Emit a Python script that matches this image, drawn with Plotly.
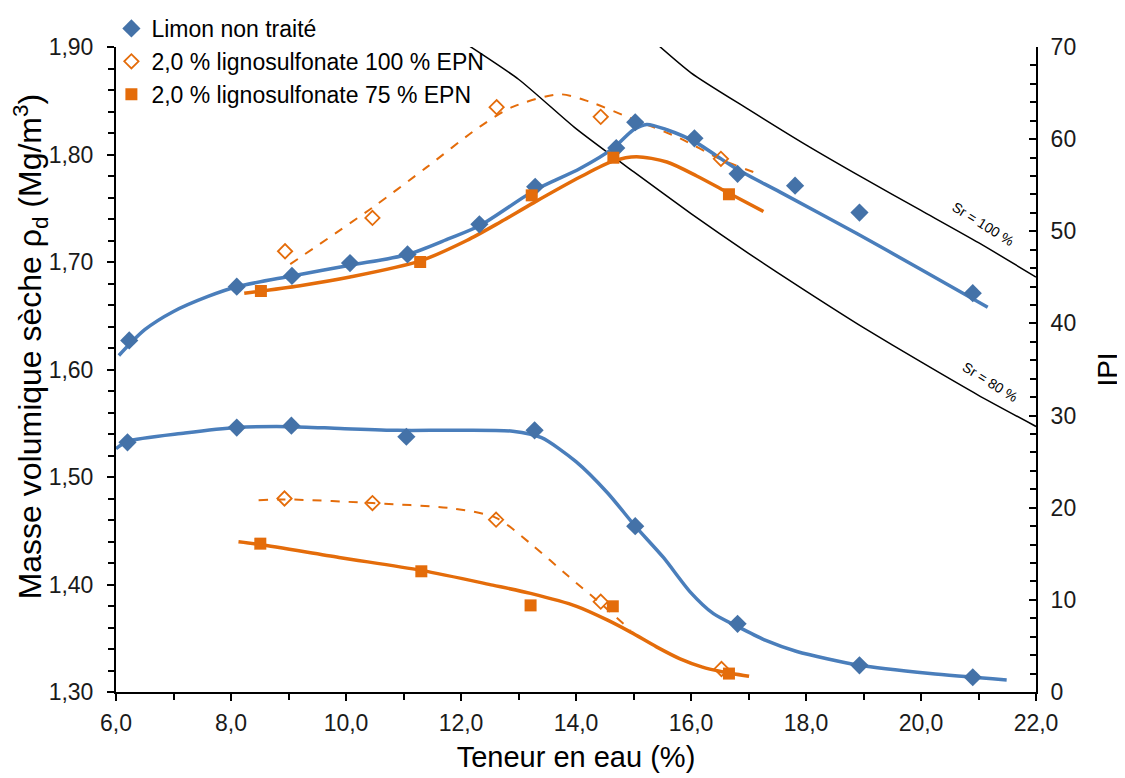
import plotly.graph_objects as go

# ---------------- data ----------------
# Dry density points (left axis)
limon_w = [6.23, 8.10, 9.06, 10.07, 11.07, 12.32, 13.29, 14.70, 15.03, 16.06, 16.81, 17.81, 18.93, 20.90]
limon_rho = [1.627, 1.677, 1.687, 1.699, 1.707, 1.735, 1.770, 1.806, 1.830, 1.815, 1.782, 1.771, 1.746, 1.671]
ligno100_w = [8.94, 10.46, 12.62, 14.43, 16.52]
ligno100_rho = [1.710, 1.741, 1.844, 1.835, 1.796]
ligno75_w = [8.52, 11.29, 13.23, 14.65, 16.66]
ligno75_rho = [1.673, 1.700, 1.762, 1.797, 1.763]

# IPI points (right axis)
limon_ipi_w = [6.20, 8.10, 9.05, 11.05, 13.28, 15.03, 16.81, 18.93, 20.90]
limon_ipi = [27.1, 28.7, 28.9, 27.7, 28.4, 18.0, 7.4, 2.9, 1.6]
ligno100_ipi_w = [8.93, 10.46, 12.61, 14.43, 16.53]
ligno100_ipi = [21.0, 20.5, 18.7, 9.8, 2.5]
ligno75_ipi_w = [8.51, 11.31, 13.21, 14.64, 16.66]
ligno75_ipi = [16.1, 13.1, 9.4, 9.3, 2.0]

# Fitted curves (density)
fit_limon_w = [6.05, 6.5, 7.0, 7.6, 8.1, 9.06, 10.07, 11.07, 11.8, 12.33, 13.29, 14.07, 14.65, 15.0, 15.23, 15.58, 16.06, 16.81, 17.55, 18.9, 20.0, 21.16]
fit_limon_rho = [1.613, 1.637, 1.654, 1.668, 1.677, 1.687, 1.697, 1.707, 1.722, 1.734, 1.767, 1.787, 1.806, 1.823, 1.828, 1.823, 1.812, 1.786, 1.765, 1.726, 1.693, 1.658]
fit_l75_w = [8.23, 9.2, 10.07, 11.29, 12.1, 12.68, 13.26, 14.07, 14.65, 15.05, 15.58, 16.1, 16.66, 17.26]
fit_l75_rho = [1.671, 1.678, 1.686, 1.701, 1.720, 1.737, 1.755, 1.779, 1.794, 1.798, 1.793, 1.780, 1.764, 1.747]
fit_l100_w = [9.03, 10.47, 11.4, 12.33, 12.91, 13.72, 14.24, 14.94, 15.81, 16.5, 17.17]
fit_l100_rho = [1.698, 1.751, 1.788, 1.826, 1.8445, 1.856, 1.849, 1.834, 1.815, 1.796, 1.782]

# Fitted curves (IPI)
fit_limon_ipi_w = [6.0, 6.2, 7.2, 8.1, 9.0, 9.9, 10.9, 11.9, 12.9, 13.4, 14.0, 14.55, 15.03, 15.52, 15.98, 16.39, 16.81, 17.3, 17.84, 18.93, 20.16, 21.49]
fit_limon_ipi = [26.4, 27.2, 28.1, 28.7, 28.8, 28.6, 28.4, 28.4, 28.3, 27.6, 25.0, 21.6, 18.0, 14.6, 10.9, 8.5, 7.1, 5.6, 4.4, 2.9, 2.0, 1.3]
fit_l75_ipi_w = [8.13, 8.51, 9.88, 11.31, 12.55, 13.21, 14.01, 14.55, 14.95, 15.4, 15.81, 16.2, 16.5, 17.01]
fit_l75_ipi = [16.3, 16.0, 14.6, 13.2, 11.6, 10.7, 9.3, 7.8, 6.5, 4.9, 3.6, 2.7, 2.25, 1.7]
fit_l100_ipi_w = [8.48, 8.93, 10.46, 11.88, 12.61, 13.21, 13.88, 14.43, 14.95]
fit_l100_ipi = [20.8, 20.9, 20.5, 19.9, 18.9, 16.1, 12.5, 9.6, 6.7]

# Saturation lines
sr100_w = [15.0, 16.0, 17.0, 18.0, 19.0, 20.0, 21.0, 22.0]
sr100_rho = [1.922, 1.876, 1.842, 1.809, 1.778, 1.748, 1.718, 1.686]
sr80_w = [12.0, 13.0, 14.0, 15.0, 16.0, 17.0, 18.0, 19.0, 20.0, 21.0, 22.0]
sr80_rho = [1.906, 1.870, 1.824, 1.784, 1.745, 1.708, 1.673, 1.639, 1.607, 1.576, 1.547]

legend_names = ["Limon non traité", "2,0 % lignosulfonate 100 % EPN", "2,0 % lignosulfonate 75 % EPN"]

# ---------------- styling ----------------
BLUE_LINE = "#4A7EBB"
BLUE_MK = "#4472A8"
ORANGE = "#E46C0A"
FONT = "Liberation Sans, Arial, sans-serif"

fig = go.Figure()

# saturation lines
for xs, ys in [(sr100_w, sr100_rho), (sr80_w, sr80_rho)]:
    fig.add_trace(go.Scatter(x=xs, y=ys, mode="lines",
                             line=dict(color="black", width=1.5, shape="spline", smoothing=0.6),
                             showlegend=False, hoverinfo="skip"))

# density curves
fig.add_trace(go.Scatter(x=fit_l100_w, y=fit_l100_rho, mode="lines",
                         line=dict(color=ORANGE, width=2, dash="dash", shape="spline", smoothing=0.8),
                         showlegend=False))
fig.add_trace(go.Scatter(x=fit_l75_w, y=fit_l75_rho, mode="lines",
                         line=dict(color=ORANGE, width=3.5, shape="spline", smoothing=0.8),
                         showlegend=False))
fig.add_trace(go.Scatter(x=fit_limon_w, y=fit_limon_rho, mode="lines",
                         line=dict(color=BLUE_LINE, width=3.5, shape="spline", smoothing=0.8),
                         showlegend=False))

# IPI curves
fig.add_trace(go.Scatter(x=fit_l100_ipi_w, y=fit_l100_ipi, yaxis="y2", mode="lines",
                         line=dict(color=ORANGE, width=2, dash="dash", shape="spline", smoothing=0.8),
                         showlegend=False))
fig.add_trace(go.Scatter(x=fit_l75_ipi_w, y=fit_l75_ipi, yaxis="y2", mode="lines",
                         line=dict(color=ORANGE, width=3.5, shape="spline", smoothing=0.8),
                         showlegend=False))
fig.add_trace(go.Scatter(x=fit_limon_ipi_w, y=fit_limon_ipi, yaxis="y2", mode="lines",
                         line=dict(color=BLUE_LINE, width=3.5, shape="spline", smoothing=0.7),
                         showlegend=False))

# markers
mk_limon = dict(symbol="diamond", size=14, color=BLUE_MK)
mk_l100 = dict(symbol="diamond-open", size=11, color=ORANGE, line=dict(width=1.8, color=ORANGE))
mk_l75 = dict(symbol="square", size=12, color=ORANGE)

fig.add_trace(go.Scatter(x=limon_w, y=limon_rho, mode="markers", marker=mk_limon,
                         name=legend_names[0], legendgroup="a"))
fig.add_trace(go.Scatter(x=ligno100_w, y=ligno100_rho, mode="markers", marker=mk_l100,
                         name=legend_names[1], legendgroup="b"))
fig.add_trace(go.Scatter(x=ligno75_w, y=ligno75_rho, mode="markers", marker=mk_l75,
                         name=legend_names[2], legendgroup="c"))
fig.add_trace(go.Scatter(x=limon_ipi_w, y=limon_ipi, yaxis="y2", mode="markers", marker=mk_limon,
                         showlegend=False, legendgroup="a"))
fig.add_trace(go.Scatter(x=ligno100_ipi_w, y=ligno100_ipi, yaxis="y2", mode="markers", marker=mk_l100,
                         showlegend=False, legendgroup="b"))
fig.add_trace(go.Scatter(x=ligno75_ipi_w, y=ligno75_ipi, yaxis="y2", mode="markers", marker=mk_l75,
                         showlegend=False, legendgroup="c"))

axis_common = dict(showline=True, linecolor="black", linewidth=2, showgrid=False, zeroline=False,
                   tickcolor="black", ticklen=7, tickwidth=1.5,
                   tickfont=dict(family=FONT, size=23, color="#1a1a1a"))

# the page body adds an 8 px offset; margins are set so the plot area lands
# at x 116..1036 and y 47..692 in the screenshot
fig.update_layout(
    width=1125, height=778,
    paper_bgcolor="white", plot_bgcolor="white",
    margin=dict(l=108, r=97, t=39, b=94, autoexpand=False),
    separators=", ",
    font=dict(family=FONT, color="black"),
    xaxis=dict(range=[6, 22], dtick=2, tick0=6, tickformat=".1f", ticks="outside",
               minor=dict(dtick=1, ticks="outside", ticklen=6, tickcolor="black"),
               ticklabelstandoff=2,
               title=dict(text="Teneur en eau (%)", font=dict(family=FONT, size=29), standoff=12),
               **axis_common),
    yaxis=dict(range=[1.30, 1.90], dtick=0.1, tick0=1.3, tickformat=".2f", ticks="outside",
               minor=dict(dtick=0.02, ticks="outside", ticklen=6, tickcolor="black"),
               ticklabelstandoff=9,
               **axis_common),
    yaxis2=dict(range=[0, 70], dtick=10, overlaying="y", side="right", ticks="inside",
                minor=dict(dtick=2, ticks="inside", ticklen=6, tickcolor="black"),
                ticklabelstandoff=8,
                title=dict(text="IPI", font=dict(family=FONT, size=28), standoff=22),
                **axis_common),
    legend=dict(x=-0.005, y=1.062, xanchor="left", yanchor="top", bgcolor="rgba(255,255,255,0)",
                font=dict(family=FONT, size=23, color="black"), itemwidth=30, tracegroupgap=0),
    showlegend=True,
)

# left axis title (placed as a rotated annotation so it sits where the reference has it)
fig.add_annotation(xref="paper", yref="paper", x=-0.093, y=0.535, xanchor="center", yanchor="middle",
                   text="Masse volumique sèche ρ<sub>d</sub> (Mg/m<sup>3</sup>)", textangle=-90,
                   showarrow=False, font=dict(family=FONT, size=32, color="black"))

fig.add_annotation(x=21.08, y=1.735, text="Sr = 100 %", showarrow=False, textangle=32,
                   font=dict(family=FONT, size=14, color="black"))
fig.add_annotation(x=21.2, y=1.588, text="Sr = 80 %", showarrow=False, textangle=32,
                   font=dict(family=FONT, size=14, color="black"))

fig.write_html("out.html")
